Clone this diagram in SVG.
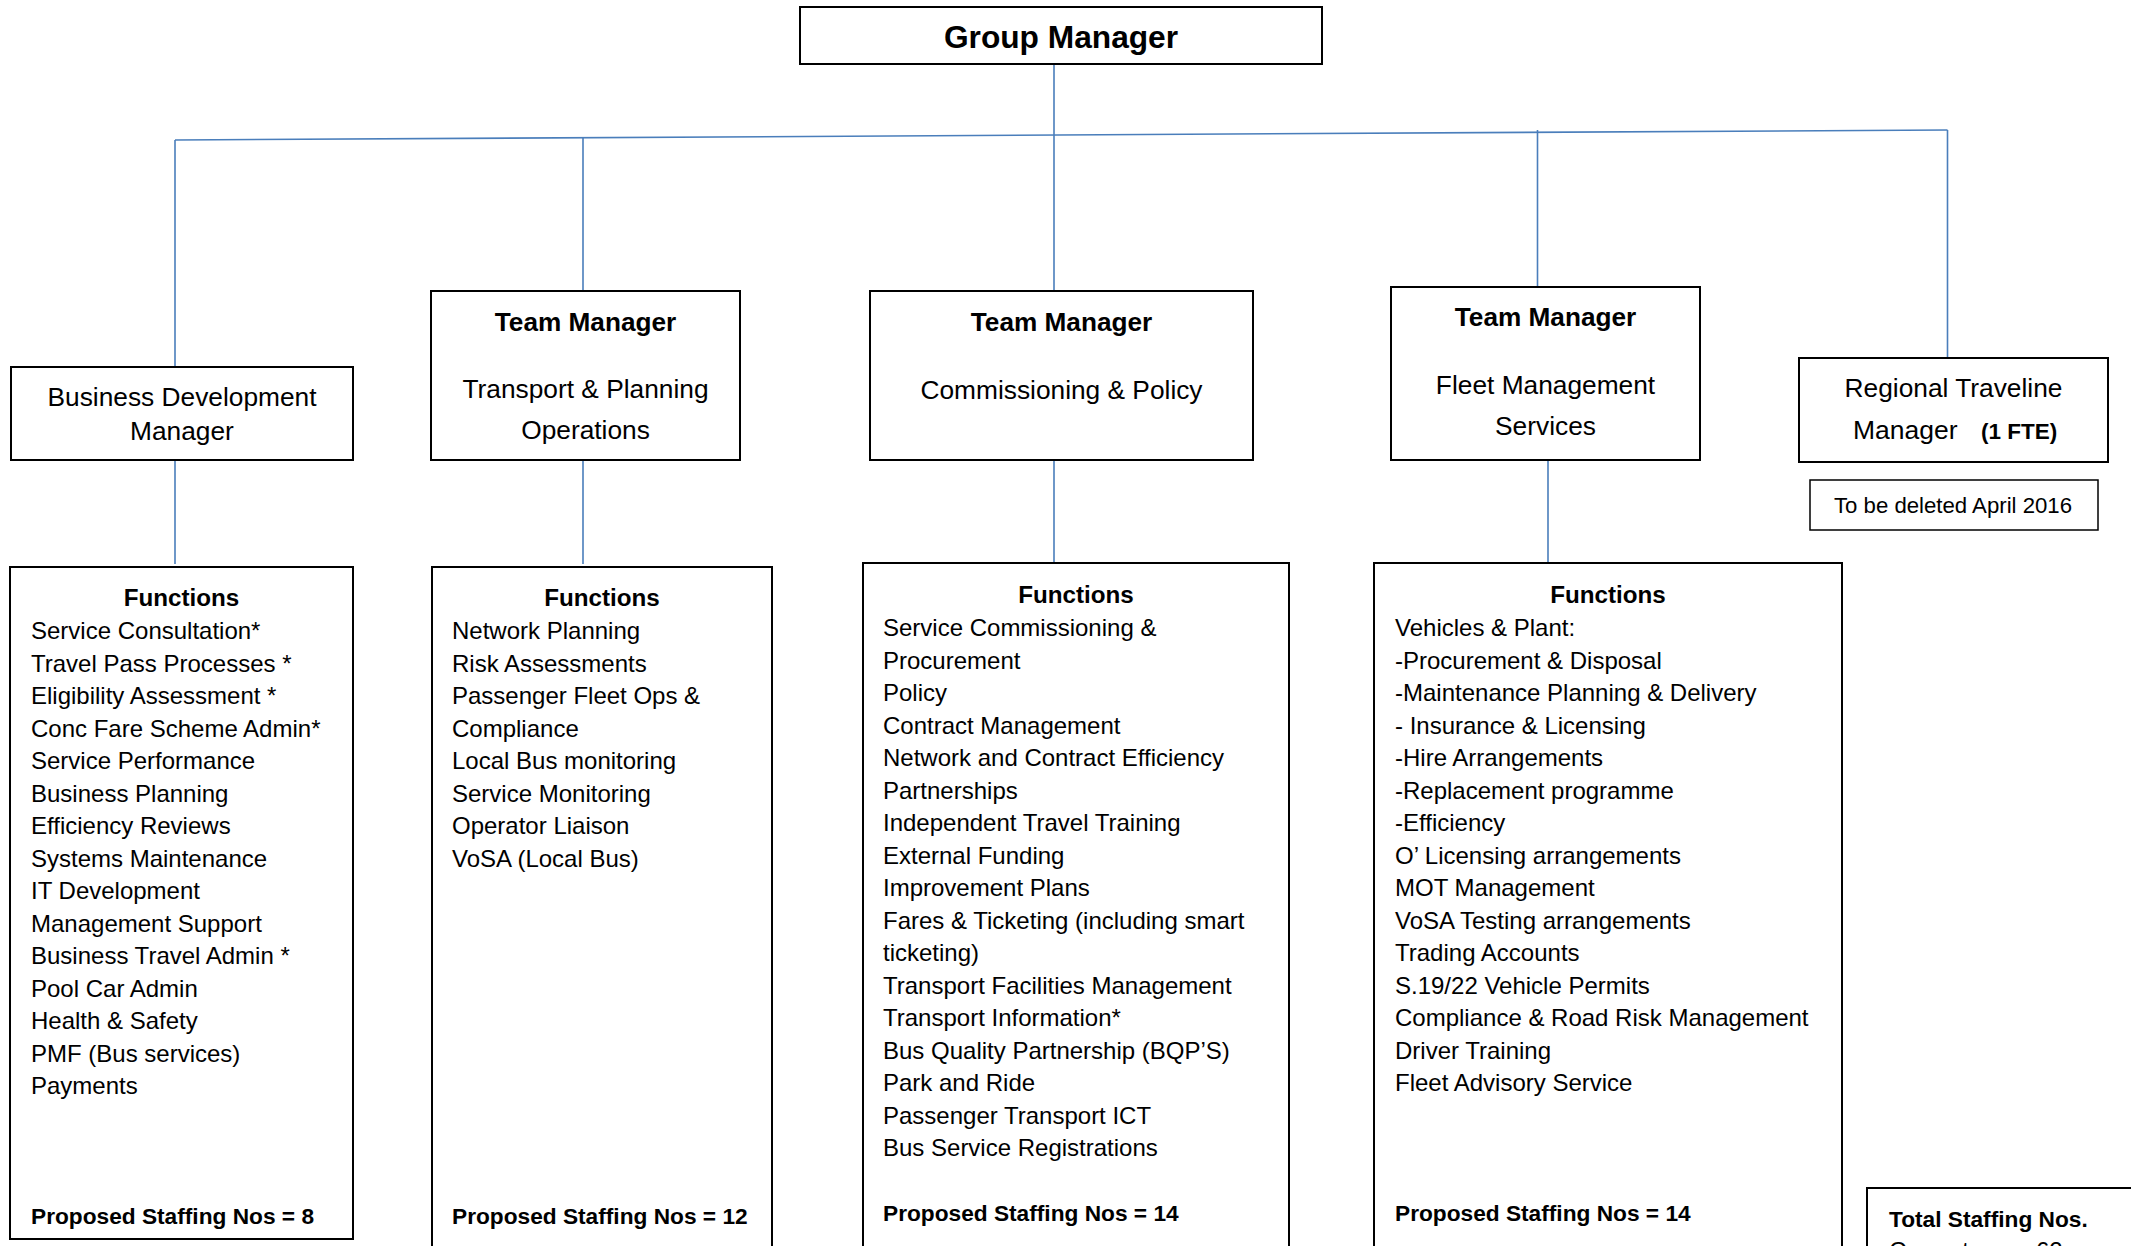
<svg xmlns="http://www.w3.org/2000/svg" width="2131" height="1246" viewBox="0 0 2131 1246">
<style>
.box{fill:#fff;stroke:#000;stroke-width:2}
.thin{fill:#fff;stroke:#000;stroke-width:1.5}
.con{stroke:#4a7ebb;stroke-width:1.6;fill:none}
text{font-family:"Liberation Sans",Arial,sans-serif;fill:#000}
.mg{font-size:26.3px;text-anchor:middle}
.mgb{font-size:26.2px;font-weight:bold;text-anchor:middle}
.fh{font-size:24.2px;font-weight:bold;text-anchor:middle}
.it{font-size:24px}
.st{font-size:22.7px;font-weight:bold}
</style>
<rect width="2131" height="1246" fill="#fff"/>
<g id="connectors">
<line class="con" x1="175" y1="140" x2="1947.5" y2="130"/>
<line class="con" x1="1054" y1="64" x2="1054" y2="291"/>
<line class="con" x1="175" y1="140" x2="175" y2="367"/>
<line class="con" x1="583" y1="138" x2="583" y2="291"/>
<line class="con" x1="1537.5" y1="130" x2="1537.5" y2="289"/>
<line class="con" x1="1947.5" y1="130" x2="1947.5" y2="358"/>
<line class="con" x1="175" y1="460" x2="175" y2="564"/>
<line class="con" x1="583" y1="461" x2="583" y2="564"/>
<line class="con" x1="1054" y1="460" x2="1054" y2="563"/>
<line class="con" x1="1548" y1="461" x2="1548" y2="563"/>
</g>
<g id="group-manager">
<rect class="box" x="800" y="7" width="522" height="57"/>
<text x="1061" y="47.5" style="font-size:31.7px;font-weight:bold;text-anchor:middle">Group Manager</text>
</g>
<g id="business-development-manager">
<rect class="box" x="11" y="367" width="342" height="93"/>
<text class="mg" x="182" y="406">Business Development</text>
<text class="mg" x="182" y="440">Manager</text>
</g>
<g id="tm-transport-planning">
<rect class="box" x="431" y="291" width="309" height="169"/>
<text class="mgb" x="585.5" y="331">Team Manager</text>
<text class="mg" x="585.5" y="397.5">Transport &amp; Planning</text>
<text class="mg" x="585.5" y="439">Operations</text>
</g>
<g id="tm-commissioning-policy">
<rect class="box" x="870" y="291" width="383" height="169"/>
<text class="mgb" x="1061.5" y="331">Team Manager</text>
<text class="mg" x="1061.5" y="398.5">Commissioning &amp; Policy</text>
</g>
<g id="tm-fleet-management">
<rect class="box" x="1391" y="287" width="309" height="173"/>
<text class="mgb" x="1545.5" y="325.5">Team Manager</text>
<text class="mg" x="1545.5" y="393.5">Fleet Management</text>
<text class="mg" x="1545.5" y="435">Services</text>
</g>
<g id="regional-traveline-manager">
<rect class="box" x="1799" y="358" width="309" height="104"/>
<text class="mg" x="1953.5" y="397">Regional Traveline</text>
<text x="1853" y="439" style="font-size:26.5px">Manager</text>
<text x="1981" y="439" style="font-size:22.5px;font-weight:bold">(1 FTE)</text>
</g>
<g id="to-be-deleted">
<rect class="thin" x="1810" y="480" width="288" height="50"/>
<text x="1953" y="513" style="font-size:22.2px;text-anchor:middle">To be deleted April 2016</text>
</g>
<g id="functions-bdm">
<rect class="box" x="10" y="567" width="343" height="672"/>
<text class="fh" x="181.5" y="606">Functions</text>
<g class="it">
<text x="31" y="639">Service Consultation*</text>
<text x="31" y="671.5">Travel Pass Processes *</text>
<text x="31" y="704">Eligibility Assessment *</text>
<text x="31" y="736.5">Conc Fare Scheme Admin*</text>
<text x="31" y="769">Service Performance</text>
<text x="31" y="801.5">Business Planning</text>
<text x="31" y="834">Efficiency Reviews</text>
<text x="31" y="866.5">Systems Maintenance</text>
<text x="31" y="899">IT Development</text>
<text x="31" y="931.5">Management Support</text>
<text x="31" y="964">Business Travel Admin *</text>
<text x="31" y="996.5">Pool Car Admin</text>
<text x="31" y="1029">Health &amp; Safety</text>
<text x="31" y="1061.5">PMF (Bus services)</text>
<text x="31" y="1094">Payments</text>
</g>
<text class="st" x="31" y="1224">Proposed Staffing Nos = 8</text>
</g>
<g id="functions-tpo">
<rect class="box" x="432" y="567" width="340" height="700"/>
<text class="fh" x="602" y="606">Functions</text>
<g class="it">
<text x="452" y="639">Network Planning</text>
<text x="452" y="671.5">Risk Assessments</text>
<text x="452" y="704">Passenger Fleet Ops &amp;</text>
<text x="452" y="736.5">Compliance</text>
<text x="452" y="769">Local Bus monitoring</text>
<text x="452" y="801.5">Service Monitoring</text>
<text x="452" y="834">Operator Liaison</text>
<text x="452" y="866.5">VoSA (Local Bus)</text>
</g>
<text class="st" x="452" y="1224">Proposed Staffing Nos = 12</text>
</g>
<g id="functions-cp">
<rect class="box" x="863" y="563" width="426" height="704"/>
<text class="fh" x="1076" y="602.5">Functions</text>
<g class="it">
<text x="883" y="636">Service Commissioning &amp;</text>
<text x="883" y="668.5">Procurement</text>
<text x="883" y="701">Policy</text>
<text x="883" y="733.5">Contract Management</text>
<text x="883" y="766">Network and Contract Efficiency</text>
<text x="883" y="798.5">Partnerships</text>
<text x="883" y="831">Independent Travel Training</text>
<text x="883" y="863.5">External Funding</text>
<text x="883" y="896">Improvement Plans</text>
<text x="883" y="928.5">Fares &amp; Ticketing (including smart</text>
<text x="883" y="961">ticketing)</text>
<text x="883" y="993.5">Transport Facilities Management</text>
<text x="883" y="1026">Transport Information*</text>
<text x="883" y="1058.5">Bus Quality Partnership (BQP’S)</text>
<text x="883" y="1091">Park and Ride</text>
<text x="883" y="1123.5">Passenger Transport ICT</text>
<text x="883" y="1156">Bus Service Registrations</text>
</g>
<text class="st" x="883" y="1221">Proposed Staffing Nos = 14</text>
</g>
<g id="functions-fms">
<rect class="box" x="1374" y="563" width="468" height="704"/>
<text class="fh" x="1608" y="602.5">Functions</text>
<g class="it">
<text x="1395" y="636">Vehicles &amp; Plant:</text>
<text x="1395" y="668.5">-Procurement &amp; Disposal</text>
<text x="1395" y="701">-Maintenance Planning &amp; Delivery</text>
<text x="1395" y="733.5">- Insurance &amp; Licensing</text>
<text x="1395" y="766">-Hire Arrangements</text>
<text x="1395" y="798.5">-Replacement programme</text>
<text x="1395" y="831">-Efficiency</text>
<text x="1395" y="863.5">O’ Licensing arrangements</text>
<text x="1395" y="896">MOT Management</text>
<text x="1395" y="928.5">VoSA Testing arrangements</text>
<text x="1395" y="961">Trading Accounts</text>
<text x="1395" y="993.5">S.19/22 Vehicle Permits</text>
<text x="1395" y="1026">Compliance &amp; Road Risk Management</text>
<text x="1395" y="1058.5">Driver Training</text>
<text x="1395" y="1091">Fleet Advisory Service</text>
</g>
<text class="st" x="1395" y="1221">Proposed Staffing Nos = 14</text>
</g>
<g id="total-staffing">
<rect class="box" x="1867" y="1188" width="290" height="100"/>
<text class="st" x="1889" y="1227">Total Staffing Nos.</text>
<text class="it" x="1889" y="1259">Current:</text>
<text class="it" x="2036" y="1259">62</text>
</g>
</svg>
